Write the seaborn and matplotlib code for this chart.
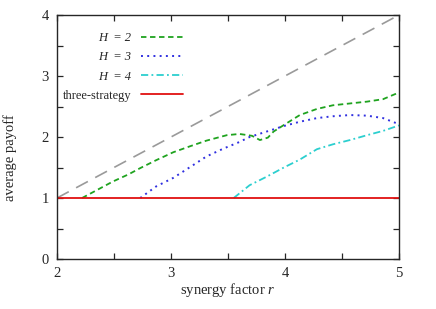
import numpy as np
import seaborn as sns
import matplotlib.pyplot as plt
from matplotlib.ticker import MultipleLocator

# values
r_h2 = [2.22, 2.35, 2.49, 2.63, 2.73, 2.87, 3.02, 3.17, 3.31, 3.49, 3.60, 3.71,
        3.78, 3.85, 3.90, 4.01, 4.13, 4.28, 4.42, 4.57, 4.72, 4.86, 5.0]
pay_h2 = [1.0, 1.13, 1.27, 1.39, 1.49, 1.62, 1.75, 1.85, 1.94, 2.03, 2.05, 2.02,
          1.95, 1.99, 2.09, 2.22, 2.36, 2.46, 2.52, 2.55, 2.58, 2.62, 2.73]

r_h3 = [2.73, 2.87, 3.02, 3.17, 3.31, 3.46, 3.59, 3.69, 3.84, 3.99, 4.13, 4.28,
        4.42, 4.57, 4.72, 4.86, 5.0]
pay_h3 = [1.0, 1.19, 1.33, 1.51, 1.68, 1.81, 1.91, 2.0, 2.09, 2.18, 2.25, 2.31,
          2.34, 2.36, 2.35, 2.31, 2.21]

r_h4 = [3.55, 3.69, 3.84, 3.99, 4.13, 4.28, 4.42, 4.57, 4.72, 4.86, 5.0]
pay_h4 = [1.0, 1.21, 1.35, 1.50, 1.63, 1.80, 1.88, 1.95, 2.03, 2.10, 2.19]

r_three = [2.0, 5.0]
pay_three = [1.0, 1.0]

r_diag = [2.0, 5.0]
pay_diag = [1.0, 4.0]

sns.set_style("ticks")
plt.rcParams['font.family'] = ['Liberation Serif', 'DejaVu Serif']
plt.rcParams['mathtext.fontset'] = 'custom'
plt.rcParams['mathtext.rm'] = 'Liberation Serif'
plt.rcParams['mathtext.it'] = 'Liberation Serif:italic'

fig = plt.figure(figsize=(4.36, 3.09), dpi=100)
ax = fig.add_axes([57 / 436, 1 - 259 / 309, 342 / 436, 244 / 309])

sns.lineplot(x=r_diag, y=pay_diag, ax=ax, color='#9a9a9a', lw=1.2,
             linestyle=(0, (8, 5)), legend=False)
sns.lineplot(x=r_h2, y=pay_h2, ax=ax, color='#1fa31f', lw=1.3,
             linestyle=(0, (3, 2)), label='H  = 2')
sns.lineplot(x=r_h3, y=pay_h3, ax=ax, color='#3030e0', lw=1.4,
             linestyle=(0, (1, 2.2)), label='H  = 3')
sns.lineplot(x=r_h4, y=pay_h4, ax=ax, color='#2ccfcf', lw=1.3,
             linestyle=(0, (4, 1.8, 1, 1.8)), label='H  = 4')
sns.lineplot(x=r_three, y=pay_three, ax=ax, color='#e01010', lw=1.3,
             label='three-strategy')

ax.set_xlim(2, 5)
ax.set_ylim(0, 4)
ax.xaxis.set_major_locator(MultipleLocator(1))
ax.xaxis.set_minor_locator(MultipleLocator(0.5))
ax.yaxis.set_major_locator(MultipleLocator(1))
ax.yaxis.set_minor_locator(MultipleLocator(0.5))
ax.tick_params(which='both', direction='in', top=True, right=True,
               length=4, width=0.9, labelsize=10.5, pad=6)
for s in ax.spines.values():
    s.set_linewidth(1.0)
    s.set_visible(True)

ax.set_xlabel(r"synergy factor $r$", fontsize=10.5)
ax.set_ylabel("average payoff", fontsize=10.5)
ax.xaxis.set_label_coords(0.5, -0.092)
ax.yaxis.set_label_coords(-0.118, 0.414)

leg = ax.legend(loc='upper right', bbox_to_anchor=(0.3675, 0.93), frameon=False,
                markerfirst=False, fontsize=9, handlelength=3.3,
                labelspacing=0.58, borderaxespad=0, borderpad=0,
                handletextpad=0.8)
for t in leg.get_texts()[:3]:
    t.set_fontstyle('italic')

fig.savefig('out.png', dpi=100)
